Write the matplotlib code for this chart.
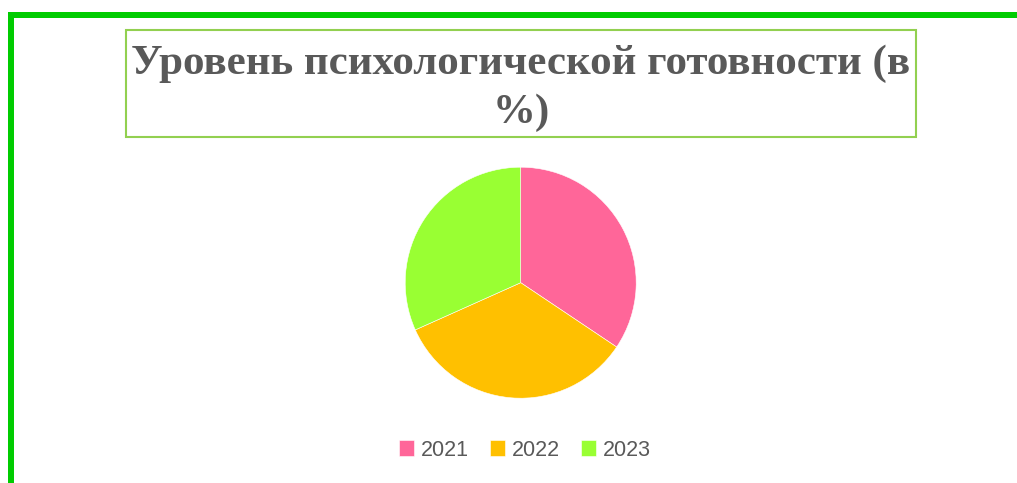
import matplotlib.pyplot as plt
from matplotlib.patches import Rectangle

years = ['2021', '2022', '2023']
values = [34.4, 33.9, 31.7]
colors = ['#FF6699', '#FFC000', '#99FF33']
title = 'Уровень психологической готовности (в\n%)'

W, H = 1017, 483
fig = plt.figure(figsize=(W / 100, H / 100), dpi=100)

def px(x0, y0, x1, y1):
    # rectangle in pixel coords (top-left origin) -> figure fractions
    return (x0 / W, 1 - y1 / H), (x1 - x0) / W, (y1 - y0) / H

# green frame lines
for box in [(8, 12, 1017, 18), (8, 12, 14, 483)]:
    xy, w, h = px(*box)
    fig.patches.append(Rectangle(xy, w, h, transform=fig.transFigure,
                                 facecolor='#00CC00', edgecolor='none'))

# title box
xy, w, h = px(126, 30, 916, 137)
fig.patches.append(Rectangle(xy, w, h, transform=fig.transFigure,
                             facecolor='white', edgecolor='#92D050', lw=1.5))
fig.text(521 / W, 1 - 88 / H, title, ha='center', va='center',
         fontsize=31, fontweight='bold', family='Liberation Serif',
         color='#595959', linespacing=1.35)

# pie
cx, cy, r = 520.7, 282.7, 115.5
ax = fig.add_axes([(cx - r) / W, 1 - (cy + r) / H, 2 * r / W, 2 * r / H])
wedges, _ = ax.pie(values, colors=colors, startangle=90, counterclock=False,
                   wedgeprops=dict(edgecolor='white', linewidth=0.4))
ax.set_xlim(-1, 1)
ax.set_ylim(-1, 1)
ax.set_aspect('equal')
ax.axis('off')

fig.legend(wedges, years, loc='center', bbox_to_anchor=(525 / W, 1 - 450 / H),
           ncol=3, frameon=False, handlelength=0.7, handleheight=0.7,
           handletextpad=0.3, columnspacing=1.0,
           prop={'family': 'Liberation Sans', 'size': 15.5},
           labelcolor='#595959')

fig.savefig('out.png', dpi=100)
